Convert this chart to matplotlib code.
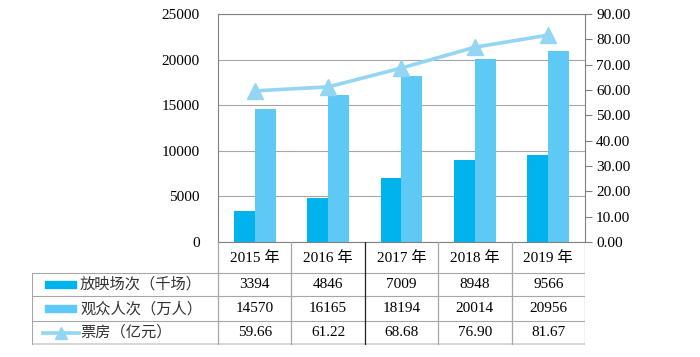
import matplotlib.pyplot as plt
from matplotlib.patches import Rectangle

plt.rcParams['font.family'] = ['Liberation Serif', 'Noto Sans CJK SC']

years = ['2015 年', '2016 年', '2017 年', '2018 年', '2019 年']
screenings = [3394, 4846, 7009, 8948, 9566]        # 放映场次（千场）
audience = [14570, 16165, 18194, 20014, 20956]     # 观众人次（万人）
box_office = [59.66, 61.22, 68.68, 76.90, 81.67]   # 票房（亿元）
row_names = ['放映场次（千场）', '观众人次（万人）', '票房（亿元）']
row_cells = [[str(v) for v in screenings],
             [str(v) for v in audience],
             ['%.2f' % v for v in box_office]]

c_dark = '#00B3EC'
c_light = '#5DC9F4'
c_line = '#93D6F4'
c_grid = '#A6A6A6'

W, H = 700, 357
fig = plt.figure(figsize=(W / 100, H / 100), dpi=100)

# 主图区域 (像素)
L, R, T, B = 218, 585, 14, 242
ax = fig.add_axes([L / W, 1 - B / H, (R - L) / W, (B - T) / H])
x = list(range(len(years)))
bw = 0.286
ax.bar([i - bw / 2 for i in x], screenings, bw, color=c_dark, zorder=2)
ax.bar([i + bw / 2 for i in x], audience, bw, color=c_light, zorder=2)
ax.set_xlim(-0.5, 4.5)
ax.set_ylim(0, 25000)
ax.set_yticks(range(0, 25001, 5000))
ax.yaxis.grid(True, color=c_grid, lw=0.8)
ax.set_axisbelow(True)
ax.set_xticks([])
ax.tick_params(axis='y', length=0, pad=13, labelsize=11)
for s in ax.spines.values():
    s.set_color('#808080')
    s.set_linewidth(0.8)
ax.spines['right'].set_visible(False)

ax2 = ax.twinx()
ax2.plot(x, box_office, color=c_line, lw=2.6, marker='^', ms=12, zorder=3)
ax2.set_ylim(0, 90)
ax2.set_yticks(range(0, 91, 10))
ax2.set_yticklabels(['%.2f' % v for v in range(0, 91, 10)])
ax2.tick_params(axis='y', length=5, width=0.8, color='#808080', pad=3, labelsize=11)
for k in ['left', 'top', 'bottom']:
    ax2.spines[k].set_visible(False)
ax2.spines['right'].set_color('#808080')
ax2.spines['right'].set_linewidth(0.8)

# 数据表
TL, TB = 32, 345
cw = (R - L) / 5.0
x0 = -0.5 - (L - TL) / cw
tax = fig.add_axes([TL / W, 1 - TB / H, (R - TL) / W, (TB - B) / H])
tax.set_xlim(x0, 4.5)
tax.set_ylim(TB + 1, B)
tax.axis('off')
rows = [242, 273, 297, 322, 345]

def px(p):
    return -0.5 + (p - L) / cw

for y in rows[1:-1]:
    tax.plot([x0, 4.5], [y, y], color=c_grid, lw=0.8)
tax.plot([x0, 4.5], [rows[-1], rows[-1]], color='#CFCFCF', lw=1.2)
tax.plot([x0, x0], [rows[1], rows[-1]], color=c_grid, lw=0.8)
for i in range(6):
    col = '#222222' if i == 2 else c_grid
    tax.plot([i - 0.5, i - 0.5], [rows[0], rows[-1]], color=col, lw=0.9)

for i, yr in enumerate(years):
    tax.text(i, (rows[0] + rows[1]) / 2 + 1, yr, ha='center', va='center', fontsize=11)
for r in range(3):
    yc = (rows[r + 1] + rows[r + 2]) / 2
    for i, v in enumerate(row_cells[r]):
        tax.text(i, yc, v, ha='center', va='center', fontsize=11)
    tax.text(px(80), yc, row_names[r], ha='left', va='center', fontsize=11, color='#333333')

# 图例标记
for r, c in enumerate([c_dark, c_light]):
    yc = (rows[r + 1] + rows[r + 2]) / 2
    tax.add_patch(Rectangle((px(45), yc - 3.5), px(76) - px(45), 7, color=c))
yc = (rows[3] + rows[4]) / 2
tax.plot([px(43), px(79)], [yc, yc], color=c_line, lw=2.6)
tax.plot([px(61)], [yc], marker='^', ms=8, color=c_line)

fig.savefig('out.png', dpi=100)
